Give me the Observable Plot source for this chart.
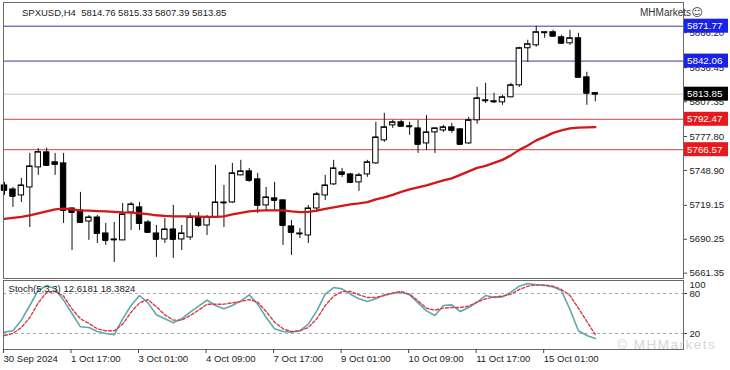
<!DOCTYPE html>
<html><head><meta charset="utf-8">
<script src="https://cdn.jsdelivr.net/npm/d3@7"></script>
<script src="https://cdn.jsdelivr.net/npm/@observablehq/plot@0.6"></script>
<style>
body{margin:0;background:#fff;}
#wrap{position:relative;width:730px;height:370px;overflow:hidden;font-family:"Liberation Sans",Arial,sans-serif;background:#fff;}
#wrap svg{position:absolute;left:0;}
#title{position:absolute;left:22px;top:7px;font-size:9.5px;color:#222;white-space:pre;}
#brand{position:absolute;left:640px;top:6px;font-size:10px;color:#333;white-space:nowrap;}
#brand span{font-family:"DejaVu Sans",sans-serif;font-size:11px;}
#wm{position:absolute;left:617px;top:337px;font-size:13.5px;color:#d6d6d6;letter-spacing:1.5px;white-space:nowrap;}
</style></head>
<body><div id="wrap"><div id="title"></div><div id="brand">MHMarkets<span>&#9786;</span></div><div id="wm">© MHMarkets</div></div>
<script>
const symbol = "SPXUSD,H4";
const open = [5736.1, 5732.7, 5727.6, 5734.4, 5751.5, 5764.3, 5755.8, 5754.9, 5716.5, 5714.8,
 5705.4, 5708.8, 5695.2, 5690.1, 5689.3, 5713.1, 5717.4, 5704.6, 5695.2, 5690.1,
 5698.6, 5690.1, 5691.8, 5708.8, 5702.0, 5708.8, 5721.6, 5721.6, 5744.7, 5748.1,
 5741.3, 5719.1, 5725.1, 5723.4, 5701.2, 5695.2, 5693.5, 5716.5, 5727.6, 5737.0,
 5747.2, 5745.5, 5738.7, 5745.5, 5754.9, 5774.5, 5787.3, 5789.9, 5786.5, 5784.7,
 5771.9, 5781.3, 5783.0, 5785.6, 5783.9, 5771.9, 5791.6, 5808.6, 5807.8, 5806.9,
 5811.2, 5821.4, 5853.0, 5855.5, 5866.6, 5866.6, 5862.3, 5857.2, 5861.5, 5828.2,
 5814.76];
const high = [5738.7, 5734.4, 5742.1, 5763.4, 5767.5, 5768.0, 5763.4, 5763.4, 5716.8, 5730.2,
 5710.5, 5710.5, 5703.7, 5704.6, 5720.8, 5721.6, 5721.6, 5706.3, 5702.0, 5708.0,
 5719.1, 5702.0, 5712.2, 5713.1, 5710.5, 5753.2, 5736.1, 5754.9, 5757.5, 5750.6,
 5746.4, 5734.4, 5738.7, 5723.6, 5706.3, 5699.5, 5719.1, 5730.2, 5744.7, 5757.5,
 5750.6, 5746.4, 5746.4, 5757.5, 5789.9, 5797.5, 5791.6, 5791.6, 5789.9, 5791.6,
 5795.8, 5785.0, 5787.3, 5789.0, 5784.7, 5794.1, 5819.7, 5823.1, 5814.6, 5812.9,
 5823.1, 5853.8, 5859.8, 5871.77, 5866.8, 5868.3, 5864.0, 5868.3, 5865.7, 5832.5,
 5815.33];
const low = [5727.6, 5717.4, 5721.6, 5700.3, 5744.7, 5752.3, 5744.7, 5703.7, 5680.7, 5703.7,
 5689.3, 5686.7, 5685.0, 5670.5, 5689.0, 5697.8, 5697.8, 5695.2, 5674.8, 5686.7,
 5673.9, 5680.7, 5689.3, 5700.3, 5693.5, 5708.0, 5700.3, 5720.8, 5744.3, 5738.7,
 5712.2, 5714.8, 5714.8, 5685.0, 5676.5, 5691.0, 5686.7, 5713.1, 5723.4, 5736.1,
 5743.0, 5738.3, 5731.0, 5743.0, 5754.0, 5772.8, 5784.7, 5785.6, 5778.8, 5763.4,
 5766.0, 5763.4, 5781.3, 5780.5, 5770.2, 5771.1, 5788.2, 5806.0, 5806.0, 5804.4,
 5810.8, 5819.7, 5841.0, 5853.8, 5861.5, 5862.8, 5856.4, 5855.5, 5827.4, 5804.4,
 5807.39];
const close = [5731.9, 5726.8, 5736.1, 5752.3, 5764.5, 5753.2, 5754.0, 5714.8, 5713.1, 5704.6,
 5708.8, 5695.2, 5689.3, 5689.7, 5711.4, 5719.9, 5703.7, 5696.1, 5690.1, 5698.6,
 5690.1, 5695.2, 5708.8, 5702.0, 5708.8, 5721.6, 5721.2, 5746.4, 5748.1, 5740.4,
 5719.1, 5725.9, 5723.4, 5702.0, 5696.1, 5694.8, 5716.5, 5728.5, 5736.1, 5750.6,
 5745.5, 5738.7, 5744.7, 5755.8, 5777.0, 5785.6, 5789.9, 5786.5, 5786.1, 5771.1,
 5781.3, 5784.7, 5785.6, 5783.0, 5771.1, 5791.6, 5810.3, 5808.2, 5807.3, 5811.2,
 5821.4, 5853.0, 5856.4, 5866.6, 5866.2, 5863.2, 5857.2, 5861.5, 5828.2, 5814.6,
 5813.85];
const movingAvg = [5707.6, 5708.4, 5709.3, 5710.6, 5712.3, 5714.0, 5715.7, 5716.3, 5715.7, 5714.8,
 5714.6, 5714.3, 5714.0, 5713.6, 5713.1, 5712.9, 5712.3, 5711.6, 5710.7, 5710.1,
 5709.7, 5709.7, 5709.7, 5709.5, 5709.3, 5709.3, 5709.7, 5711.4, 5712.7, 5714.0,
 5714.6, 5714.8, 5714.8, 5714.8, 5714.0, 5713.4, 5713.6, 5714.6, 5716.1, 5717.4,
 5718.7, 5719.9, 5720.8, 5721.9, 5724.2, 5725.9, 5728.1, 5730.6, 5732.8, 5734.4,
 5736.1, 5738.3, 5740.4, 5742.1, 5745.1, 5748.1, 5751.1, 5752.8, 5755.3, 5757.9,
 5761.7, 5766.4, 5770.2, 5774.5, 5777.5, 5780.9, 5783.0, 5784.7, 5785.3, 5785.6,
 5785.8];
const stochK = [22, 24, 40, 62, 85, 92, 87, 70, 50, 30,
 29, 23, 20, 18, 42, 62, 77, 66, 48, 42,
 36, 42, 52, 61, 70, 62, 57, 62, 69, 78,
 64, 44, 27, 23, 22, 24, 34, 54, 79, 89,
 87, 79, 72, 68, 72, 78, 80, 82, 78, 66,
 54, 47, 62, 63, 53, 59, 67, 77, 74, 75,
 82, 91, 95, 93, 92, 90, 84, 56, 24, 17,
 12.6181];
const stochD = [17, 20, 29, 44, 66, 82, 83, 76, 57, 42,
 35, 27, 24, 24, 34, 52, 66, 71, 60, 48,
 40, 40, 47, 55, 64, 64, 64, 66, 68, 71,
 67, 53, 37, 27, 23, 24, 29, 42, 62, 76,
 83, 83, 78, 74, 74, 77, 81, 83, 79, 69,
 58, 55, 58, 59, 59, 61, 67, 72, 75, 76,
 79, 86, 91, 93, 93, 91, 86, 77, 58, 38,
 18.3824];
const xTickBars = [0, 8, 16, 24, 32, 40, 48, 56, 64];
const xTickLabels = ["30 Sep 2024", "1 Oct 17:00", "3 Oct 01:00", "4 Oct 09:00", "7 Oct 17:00", "9 Oct 01:00", "10 Oct 09:00", "11 Oct 17:00", "15 Oct 01:00"];
const yTicks = [5866.20, 5836.45, 5807.35, 5777.80, 5748.90, 5719.15, 5690.25, 5661.35];
const levelValues = [5871.77, 5842.06, 5813.85, 5792.47, 5766.57];
const levelKinds = ["resistance", "resistance", "price", "support", "support"];
const stochLevels = [80, 20];
const stochTop = [100];

// styles
const lineColor = {resistance: "#3a3a9a", price: "#c4c4c4", support: "#c84646"};
const tagColor = {resistance: "#1a22e8", price: "#000000", support: "#e8181c"};

const last = open.length - 1;
document.getElementById("title").textContent =
  `${symbol}  ${open[last].toFixed(2)} ${high[last].toFixed(2)} ${low[last].toFixed(2)} ${close[last].toFixed(2)}`;

const bars = open.map((o, i) => ({i, open: o, high: high[i], low: low[i], close: close[i], ma: movingAvg[i], k: stochK[i], d: stochD[i]}));
const levels = levelValues.map((v, j) => ({value: v, kind: levelKinds[j]}));

const W = 730;
const xScale = {domain: [0, 70], range: [4, 594.8]};
const half = 0.32;
const font = {fontFamily: "Liberation Sans, Arial, sans-serif", fontSize: "9.6px", color: "#222", background: "transparent", overflow: "visible"};

function priceTags(index, scales, values, dims) {
  const g = d3.create("svg:g").attr("text-anchor", "start");
  const x0 = dims.width - dims.marginRight + 1;
  for (const L of levels) {
    const y = scales.y(L.value);
    g.append("rect").attr("x", x0).attr("y", y - 7).attr("width", 44).attr("height", 14).attr("fill", tagColor[L.kind]);
    g.append("text").attr("x", x0 + 3).attr("y", y).attr("dy", "0.35em").attr("fill", "#fff")
      .attr("text-anchor", "start").attr("font-size", "9.8px").text(L.value.toFixed(2));
  }
  return g.node();
}

const main = Plot.plot({
  width: W, height: 279,
  marginTop: 2, marginBottom: 1, marginLeft: 3, marginRight: 47,
  x: {...xScale, axis: null, label: null},
  y: {domain: [5661.35, 5871.77], range: [272.7, 25.7], axis: null, label: null},
  style: font,
  marks: [
    Plot.ruleY(levels, {y: "value", stroke: d => lineColor[d.kind], strokeWidth: 1}),
    Plot.ruleX(bars, {x: "i", y1: "low", y2: "high", stroke: "#111", strokeWidth: 1}),
    Plot.rect(bars, {x1: d => d.i - half, x2: d => d.i + half, y1: "open", y2: "close",
      fill: d => d.close >= d.open ? "#fff" : "#000", stroke: "#000", strokeWidth: 1}),
    Plot.ruleY(bars, {y: "close", x1: d => d.i - half, x2: d => d.i + half, stroke: "#000"}),
    Plot.line(bars, {x: "i", y: "ma", stroke: "#d41616", strokeWidth: 2.3, curve: "linear"}),
    Plot.frame({stroke: "#6a6a6a"}),
    Plot.axisY({ticks: yTicks, anchor: "right", label: null, tickSize: 3, tickPadding: 3, tickFormat: d => d.toFixed(2), stroke: "#444", fill: "#222"}),
    priceTags
  ]
});
main.style.top = "0px";

const stoch = Plot.plot({
  width: W, height: 92,
  marginTop: 2, marginBottom: 21, marginLeft: 3, marginRight: 47,
  x: {...xScale, axis: null, label: null},
  y: {domain: [0, 100], range: [68.3, 1.7], axis: null, label: null},
  style: font,
  marks: [
    Plot.ruleY(stochLevels, {stroke: "#aaa", strokeDasharray: "3,3"}),
    Plot.line(bars, {x: "i", y: "k", stroke: "#5ea9a9", strokeWidth: 1.6}),
    Plot.line(bars, {x: "i", y: "d", stroke: "#d83c46", strokeWidth: 1.4, strokeDasharray: "3,2"}),
    Plot.frame({stroke: "#6a6a6a"}),
    Plot.text([`Stoch(5,3,3) ${stochK[last].toFixed(4)} ${stochD[last].toFixed(4)}`], {frameAnchor: "top-left", dx: 5, dy: 5, textAnchor: "start", fill: "#222"}),
    Plot.axisY({ticks: stochLevels, anchor: "right", label: null, tickSize: 3, tickPadding: 3, stroke: "#444", fill: "#222"}),
    Plot.text(stochTop, {y: d => d, frameAnchor: "right", dx: 6, dy: 5, textAnchor: "start", fill: "#222"}),
    Plot.axisX({ticks: xTickBars, anchor: "bottom", label: null, tickSize: 4, tickPadding: 2, textAnchor: "start", dx: -1,
      tickFormat: d => xTickLabels[xTickBars.indexOf(d)], stroke: "#444", fill: "#222"})
  ]
});
stoch.style.top = "278px";

const wrap = document.getElementById("wrap");
wrap.insertBefore(stoch, wrap.firstChild);
wrap.insertBefore(main, wrap.firstChild);
</script>
</body></html>
